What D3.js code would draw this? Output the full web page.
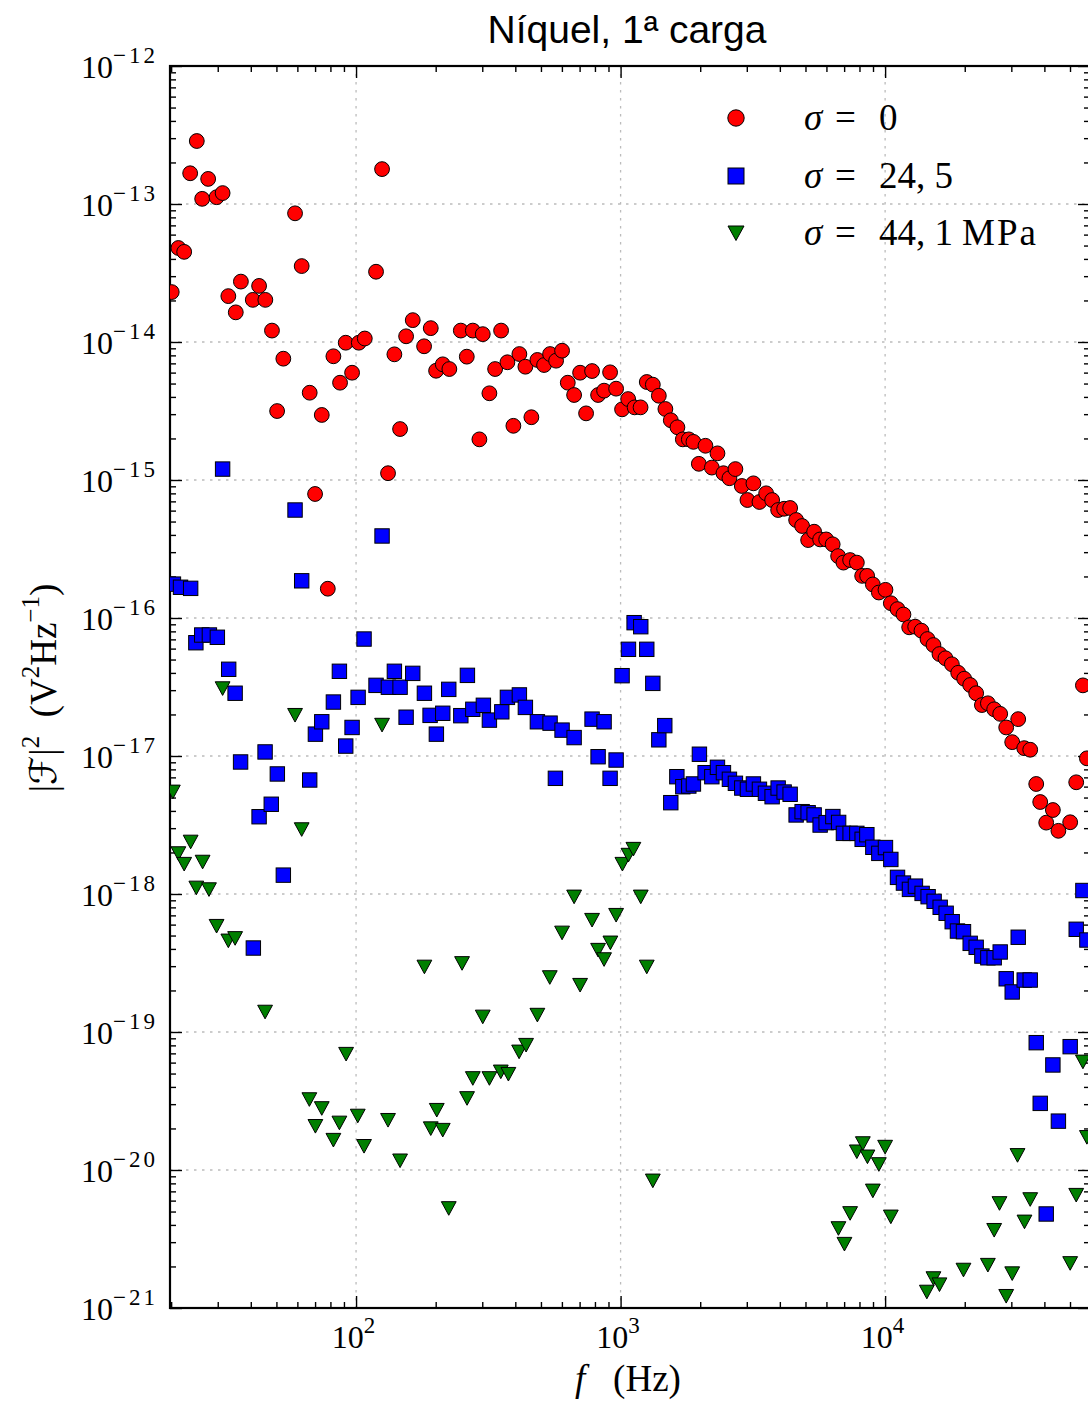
<!DOCTYPE html>
<html>
<head>
<meta charset="utf-8">
<script src="https://cdn.jsdelivr.net/npm/d3@7"></script>
<style>
  body { margin: 0; background: #fff; }
  text { white-space: pre; }
</style>
</head>
<body>
<svg id="chart"></svg>
<script>
// [frequency (Hz), |F|^2 (V^2 Hz^-1)]
const sigma0 = [
  [20.1, 2.3e-14], [21.3, 4.8e-14], [22.4, 4.5e-14], [23.6, 1.67e-13], [25.0, 2.86e-13],
  [26.2, 1.09e-13], [27.6, 1.52e-13], [29.7, 1.12e-13], [31.3, 1.2e-13], [32.9, 2.15e-14],
  [35.1, 1.64e-14], [36.7, 2.74e-14], [40.7, 2.02e-14], [43.0, 2.55e-14], [45.4, 2.02e-14],
  [48.1, 1.21e-14], [50.3, 3.16e-15], [53.1, 7.57e-15], [58.8, 8.56e-14], [62.3, 3.55e-14],
  [66.8, 4.29e-15], [70.0, 7.92e-16], [74.2, 2.96e-15], [78.2, 1.63e-16], [82.1, 7.88e-15],
  [87.0, 5.07e-15], [91.4, 9.88e-15], [96.6, 5.99e-15], [102.4, 9.88e-15], [107.9, 1.06e-14],
  [119.0, 3.23e-14], [125.4, 1.79e-13], [132.1, 1.12e-15], [139.6, 8.14e-15], [146.7, 2.34e-15],
  [154.6, 1.10e-14], [163.8, 1.44e-14], [180.8, 9.31e-15], [191.6, 1.26e-14], [200.7, 6.19e-15],
  [212.7, 6.89e-15], [225.3, 6.37e-15], [248.9, 1.21e-14], [262.2, 7.83e-15], [276.3, 1.21e-14],
  [292.6, 1.97e-15], [301.3, 1.14e-14], [319.2, 4.25e-15], [335.5, 6.37e-15], [353.4, 1.21e-14],
  [373.4, 7.13e-15], [393.3, 2.47e-15], [414.4, 8.18e-15], [436.6, 6.62e-15], [460.0, 2.85e-15],
  [484.7, 7.41e-15], [513.8, 6.81e-15], [541.3, 8.18e-15], [570.4, 7.32e-15], [600.9, 8.65e-15],
  [631.5, 5.07e-15], [667.3, 4.13e-15], [703.0, 5.99e-15], [740.6, 3.04e-15], [780.2, 6.16e-15],
  [822.2, 4.13e-15], [866.2, 4.44e-15], [912.7, 6.03e-15], [961.8, 4.59e-15], [1013, 3.25e-15],
  [1068, 3.86e-15], [1130, 3.36e-15], [1190, 3.36e-15], [1256, 5.13e-15], [1324, 4.91e-15],
  [1395, 4.08e-15], [1477, 3.27e-15], [1548, 2.71e-15], [1640, 2.41e-15], [1719, 1.97e-15],
  [1811, 1.97e-15], [1885, 1.89e-15], [1976, 1.31e-15], [2093, 1.77e-15], [2213, 1.23e-15],
  [2324, 1.56e-15], [2448, 1.12e-15], [2579, 1.03e-15], [2717, 1.20e-15], [2872, 9.05e-16],
  [3017, 7.16e-16], [3178, 9.46e-16], [3349, 6.93e-16], [3550, 8.01e-16], [3740, 7.16e-16],
  [3941, 6.06e-16], [4152, 6.19e-16], [4375, 6.27e-16], [4609, 5.13e-16], [4856, 4.64e-16],
  [5117, 3.67e-16], [5391, 4.22e-16], [5680, 3.71e-16], [5985, 3.71e-16], [6335, 3.42e-16],
  [6643, 2.81e-16], [6957, 2.52e-16], [7374, 2.63e-16], [7818, 2.52e-16], [8189, 2.02e-16],
  [8553, 2.02e-16], [8987, 1.75e-16], [9469, 1.53e-16], [10030, 1.60e-16], [10510, 1.28e-16],
  [11140, 1.16e-16], [11730, 1.06e-16], [12330, 8.56e-17], [12990, 8.65e-17], [13720, 8.09e-17],
  [14460, 7.04e-17], [15230, 6.37e-17], [16050, 5.48e-17], [16910, 5.11e-17], [17880, 4.62e-17],
  [18890, 4.01e-17], [19900, 3.63e-17], [20970, 3.27e-17], [22090, 2.85e-17], [23220, 2.34e-17],
  [24460, 2.41e-17], [25840, 2.18e-17], [27230, 2.02e-17], [28690, 1.61e-17], [30230, 1.26e-17],
  [31850, 1.85e-17], [33560, 1.14e-17], [35360, 1.11e-17], [37260, 6.27e-18], [38580, 4.64e-18],
  [40640, 3.29e-18], [43070, 4.06e-18], [45190, 2.87e-18], [50070, 3.31e-18], [52770, 6.45e-18],
  [55940, 3.25e-17], [57920, 9.62e-18]
];

const sigma245 = [
  [20.4, 1.76e-16], [21.7, 1.67e-16], [23.7, 1.64e-16], [24.8, 6.62e-17], [26.1, 7.53e-17],
  [27.9, 7.53e-17], [29.9, 7.25e-17], [31.3, 1.20e-15], [33.0, 4.25e-17], [34.9, 2.85e-17],
  [36.6, 9.05e-18], [40.9, 4.06e-19], [43.0, 3.63e-18], [45.3, 1.07e-17], [47.8, 4.47e-18],
  [50.4, 7.41e-18], [53.1, 1.37e-18], [58.8, 6.06e-16], [62.3, 1.86e-16], [66.8, 6.70e-18],
  [70.2, 1.44e-17], [74.2, 1.77e-17], [82.1, 2.46e-17], [86.5, 4.11e-17], [91.4, 1.18e-17],
  [96.6, 1.61e-17], [101.8, 2.66e-17], [107.2, 7.04e-17], [119.0, 3.25e-17], [125.4, 3.93e-16],
  [132.5, 3.15e-17], [139.6, 4.11e-17], [146.7, 3.15e-17], [154.6, 1.91e-17], [163.8, 3.97e-17],
  [181.3, 2.85e-17], [190.5, 1.97e-17], [201.2, 1.44e-17], [212.7, 2.04e-17], [224.1, 3.04e-17],
  [248.9, 1.96e-17], [263.6, 3.84e-17], [276.3, 2.18e-17], [302.9, 2.33e-17], [319.2, 1.82e-17],
  [355.6, 2.09e-17], [373.4, 2.66e-17], [414.4, 2.77e-17], [436.6, 2.25e-17], [484.7, 1.77e-17],
  [541.3, 1.73e-17], [567.0, 6.89e-18], [600.9, 1.54e-17], [667.3, 1.36e-17], [780.2, 1.85e-17],
  [822.2, 9.88e-18], [866.2, 1.77e-17], [912.7, 6.89e-18], [961.8, 9.35e-18], [1013, 3.82e-17],
  [1071, 5.93e-17], [1125, 9.25e-17], [1192, 8.65e-17], [1256, 5.93e-17], [1324, 3.36e-17],
  [1395, 1.31e-17], [1469, 1.66e-17], [1548, 4.59e-18], [1632, 7.08e-18], [1719, 5.99e-18],
  [1811, 6.06e-18], [1885, 6.27e-18], [1986, 1.03e-17], [2087, 7.57e-18], [2213, 7.08e-18],
  [2324, 8.28e-18], [2448, 7.57e-18], [2579, 6.78e-18], [2717, 6.34e-18], [2872, 5.86e-18],
  [3017, 5.74e-18], [3178, 6.27e-18], [3349, 5.74e-18], [3529, 5.37e-18], [3740, 5.07e-18],
  [3941, 5.86e-18], [4152, 5.48e-18], [4375, 5.28e-18], [4609, 3.74e-18], [4856, 3.95e-18],
  [5117, 3.88e-18], [5391, 3.74e-18], [5680, 3.16e-18], [5985, 3.29e-18], [6346, 3.64e-18],
  [6672, 3.30e-18], [6957, 2.75e-18], [7374, 2.75e-18], [7818, 2.75e-18], [8189, 2.49e-18],
  [8531, 2.69e-18], [8987, 2.18e-18], [9469, 1.97e-18], [10030, 2.17e-18], [10510, 1.78e-18],
  [11140, 1.32e-18], [11730, 1.20e-18], [12360, 1.08e-18], [13020, 1.14e-18], [13800, 1.01e-18],
  [14540, 9.56e-19], [15320, 8.85e-19], [16150, 8.01e-19], [17010, 7.25e-19], [17930, 6.30e-19],
  [18770, 5.39e-19], [19780, 5.33e-19], [20970, 4.39e-19], [22090, 4.11e-19], [23220, 3.55e-19],
  [24460, 3.45e-19], [25840, 3.45e-19], [27230, 3.80e-19], [28690, 2.43e-19], [30230, 1.95e-19],
  [31850, 4.86e-19], [33560, 2.38e-19], [35360, 2.38e-19], [37260, 8.37e-20], [38580, 3.04e-20],
  [40640, 4.80e-21], [43070, 5.77e-20], [45190, 2.26e-20], [50070, 7.83e-20], [52770, 5.55e-19],
  [55940, 1.06e-18], [57920, 4.64e-19]
];

const sigma441 = [
  [20.3, 5.51e-18], [21.3, 1.97e-18], [22.4, 1.65e-18], [23.7, 2.39e-18], [24.9, 1.11e-18],
  [26.3, 1.71e-18], [27.8, 1.08e-18], [29.7, 5.86e-19], [31.3, 3.09e-17], [32.9, 4.59e-19],
  [34.9, 4.78e-19], [45.3, 1.40e-19], [58.8, 1.98e-17], [62.3, 2.94e-18], [66.6, 3.25e-20],
  [70.2, 2.08e-20], [74.2, 2.80e-20], [82.1, 1.65e-20], [86.5, 2.20e-20], [91.7, 6.93e-20],
  [101.5, 2.47e-20], [107.2, 1.49e-20], [125.4, 1.68e-17], [132.1, 2.30e-20], [146.7, 1.17e-20],
  [181.3, 2.97e-19], [191.6, 2.00e-20], [201.9, 2.72e-20], [212.7, 1.95e-20], [224.1, 5.28e-21],
  [251.6, 3.15e-19], [262.8, 3.31e-20], [276.3, 4.62e-20], [301.3, 1.29e-19], [319.2, 4.62e-20],
  [352.5, 5.16e-20], [376.6, 4.96e-20], [413.4, 7.20e-20], [439.3, 8.05e-20], [484.7, 1.33e-19],
  [540.0, 2.49e-19], [600.9, 5.24e-19], [667.3, 9.56e-19], [703.0, 2.19e-19], [780.2, 6.48e-19],
  [822.2, 3.93e-19], [866.2, 3.36e-19], [915.0, 4.44e-19], [961.8, 7.04e-19], [1016, 1.65e-18],
  [1071, 1.92e-18], [1118, 2.12e-18], [1192, 9.56e-19], [1256, 2.97e-19], [1324, 8.37e-21],
  [6661, 3.78e-21], [7019, 2.91e-21], [7374, 4.86e-21], [7818, 1.36e-20], [8238, 1.56e-20],
  [8575, 1.25e-20], [8987, 7.08e-21], [9469, 1.10e-20], [10000, 1.47e-20], [10510, 4.59e-21],
  [14380, 1.31e-21], [15230, 1.64e-21], [16050, 1.48e-21], [19780, 1.89e-21], [24460, 2.05e-21],
  [25840, 3.67e-21], [27060, 5.74e-21], [28690, 1.22e-21], [30230, 1.78e-21], [31660, 1.28e-20],
  [33640, 4.22e-21], [35360, 6.13e-21], [50070, 2.11e-21], [52770, 6.59e-21], [55940, 6.09e-20],
  [57920, 1.73e-20]
];

// legend: [stress value, unit]
const seriesValues = ["0", "24, 5", "44, 1"];
const seriesUnits = ["", "", "MPa"];
const seriesColors = ["#ff0000", "#0000ff", "#007f00"];
const xMajor = [1e2, 1e3, 1e4];
const yMajor = [1e-21, 1e-20, 1e-19, 1e-18, 1e-17, 1e-16, 1e-15, 1e-14, 1e-13, 1e-12];

const W = 1088, H = 1405;
const plot = {left: 170, right: 1090, top: 66, bottom: 1308};
const serif = "'Liberation Serif', 'DejaVu Serif', serif";

const svg = d3.select("#chart").attr("width", W).attr("height", H);

const x = d3.scaleLog().domain([19.8, 59500]).range([plot.left, plot.right]);
const y = d3.scaleLog().domain([1e-21, 1e-12]).range([plot.bottom, plot.top]);

svg.append("defs").append("clipPath").attr("id", "clip")
  .append("rect")
  .attr("x", plot.left).attr("y", plot.top)
  .attr("width", plot.right - plot.left).attr("height", plot.bottom - plot.top);

// grid
const grid = svg.append("g")
  .attr("stroke", "#bcbcbc").attr("stroke-width", 1.3).attr("stroke-dasharray", "2.5,5.5");
grid.selectAll(".gx").data(xMajor).join("line")
  .attr("x1", d => x(d)).attr("x2", d => x(d))
  .attr("y1", plot.top).attr("y2", plot.bottom);
grid.selectAll(".gy").data(yMajor.slice(1, -1)).join("line")
  .attr("x1", plot.left).attr("x2", plot.right)
  .attr("y1", d => y(d)).attr("y2", d => y(d));

// minor tick values
const xMinor = x.ticks().filter(d => !xMajor.includes(d));
const yMinor = [];
for (let e = -21; e < -12; e++) for (let m = 2; m <= 9; m++) yMinor.push(m * Math.pow(10, e));

function tickAxis(axisFn, scale, values, size, transform) {
  const g = svg.append("g").attr("transform", transform)
    .call(axisFn(scale).tickValues(values).tickSize(-size).tickFormat(""));
  g.select(".domain").remove();
  g.selectAll(".tick line").attr("stroke", "#000").attr("stroke-width", 1.4);
}
tickAxis(d3.axisBottom, x, xMajor, 12, `translate(0,${plot.bottom})`);
tickAxis(d3.axisBottom, x, xMinor, 6, `translate(0,${plot.bottom})`);
tickAxis(d3.axisTop, x, xMajor, 12, `translate(0,${plot.top})`);
tickAxis(d3.axisTop, x, xMinor, 6, `translate(0,${plot.top})`);
tickAxis(d3.axisLeft, y, yMajor, 12, `translate(${plot.left},0)`);
tickAxis(d3.axisLeft, y, yMinor, 6, `translate(${plot.left},0)`);
tickAxis(d3.axisRight, y, yMajor, 12, `translate(${plot.right},0)`);
tickAxis(d3.axisRight, y, yMinor, 6, `translate(${plot.right},0)`);

// frame
svg.append("rect")
  .attr("x", plot.left).attr("y", plot.top)
  .attr("width", plot.right - plot.left).attr("height", plot.bottom - plot.top)
  .attr("fill", "none").attr("stroke", "#000").attr("stroke-width", 2.2);

// power-of-ten labels
function powLabel(sel, d) {
  const k = Math.round(Math.log10(d));
  sel.append("tspan").text("10");
  sel.append("tspan").attr("dy", -15).style("font-size", "23px").style("letter-spacing", "3px")
    .text(k < 0 ? "−" + (-k) : String(k));
}
svg.append("g").selectAll("text").data(xMajor).join("text")
  .attr("x", d => x(d) - 1).attr("y", plot.bottom + 40)
  .attr("text-anchor", "middle")
  .style("font-family", serif).style("font-size", "32px")
  .each(function(d) { powLabel(d3.select(this), d); });
svg.append("g").selectAll("text").data(yMajor).join("text")
  .attr("x", 158).attr("y", d => y(d) + 12)
  .attr("text-anchor", "end")
  .style("font-family", serif).style("font-size", "32px")
  .each(function(d) { powLabel(d3.select(this), d); });

// data
const R = 7.4, S = 14.4;
const triDown = "M-7.4,-6.6 L7.4,-6.6 L0,7 Z";
const marks = svg.append("g").attr("clip-path", "url(#clip)");

marks.append("g").selectAll("circle").data(sigma0).join("circle")
  .attr("cx", d => x(d[0])).attr("cy", d => y(d[1])).attr("r", R)
  .attr("fill", seriesColors[0]).attr("stroke", "#000").attr("stroke-width", 1);

marks.append("g").selectAll("rect").data(sigma245).join("rect")
  .attr("x", d => x(d[0]) - S / 2).attr("y", d => y(d[1]) - S / 2)
  .attr("width", S).attr("height", S)
  .attr("fill", seriesColors[1]).attr("stroke", "#000").attr("stroke-width", 1);

marks.append("g").selectAll("path").data(sigma441).join("path")
  .attr("d", triDown)
  .attr("transform", d => `translate(${x(d[0])},${y(d[1])})`)
  .attr("fill", seriesColors[2]).attr("stroke", "#000").attr("stroke-width", 1);

// legend
const legend = svg.append("g");
const legendRows = [118, 176, 233];
legend.append("circle").attr("cx", 736).attr("cy", legendRows[0]).attr("r", 8.2)
  .attr("fill", seriesColors[0]).attr("stroke", "#000");
legend.append("rect").attr("x", 736 - 8).attr("y", legendRows[1] - 8)
  .attr("width", 16).attr("height", 16)
  .attr("fill", seriesColors[1]).attr("stroke", "#000");
legend.append("path").attr("d", "M-8,-7 L8,-7 L0,7.5 Z").attr("transform", `translate(736,${legendRows[2]})`)
  .attr("fill", seriesColors[2]).attr("stroke", "#000");
seriesValues.forEach((val, i) => {
  const t = legend.append("text")
    .attr("y", legendRows[i] + 12)
    .style("font-family", serif).style("font-size", "37px");
  t.append("tspan").attr("x", 804).style("font-style", "italic").text("σ");
  t.append("tspan").attr("x", 835).text("=");
  t.append("tspan").attr("x", 879).text(val);
  if (seriesUnits[i]) t.append("tspan").attr("x", 962).style("letter-spacing", "2px").text(seriesUnits[i]);
});

// title
svg.append("text")
  .attr("x", 627).attr("y", 43)
  .attr("text-anchor", "middle")
  .style("font-family", "'Liberation Sans', Arial, sans-serif").style("font-size", "39px")
  .text("Níquel, 1ª carga");

// x label
const xl = svg.append("text")
  .attr("x", 628).attr("y", 1391)
  .attr("text-anchor", "middle")
  .style("font-family", serif).style("font-size", "37px");
xl.append("tspan").style("font-style", "italic").text("f");
xl.append("tspan").text("   (Hz)");

// y label
const yl = svg.append("text")
  .attr("transform", "translate(56,688) rotate(-90)")
  .attr("text-anchor", "middle")
  .style("font-family", serif).style("font-size", "37px");
yl.append("tspan").text("|");
yl.append("tspan").style("font-family", "'DejaVu Sans', serif").style("font-style", "italic").text("ℱ");
yl.append("tspan").text("|");
yl.append("tspan").attr("dy", -17).style("font-size", "25px").text("2");
yl.append("tspan").attr("dy", 17).text("  (V");
yl.append("tspan").attr("dy", -17).style("font-size", "25px").text("2");
yl.append("tspan").attr("dy", 17).text("Hz");
yl.append("tspan").attr("dy", -17).style("font-size", "25px").text("−1");
yl.append("tspan").attr("dy", 17).text(")");
</script>
</body>
</html>
